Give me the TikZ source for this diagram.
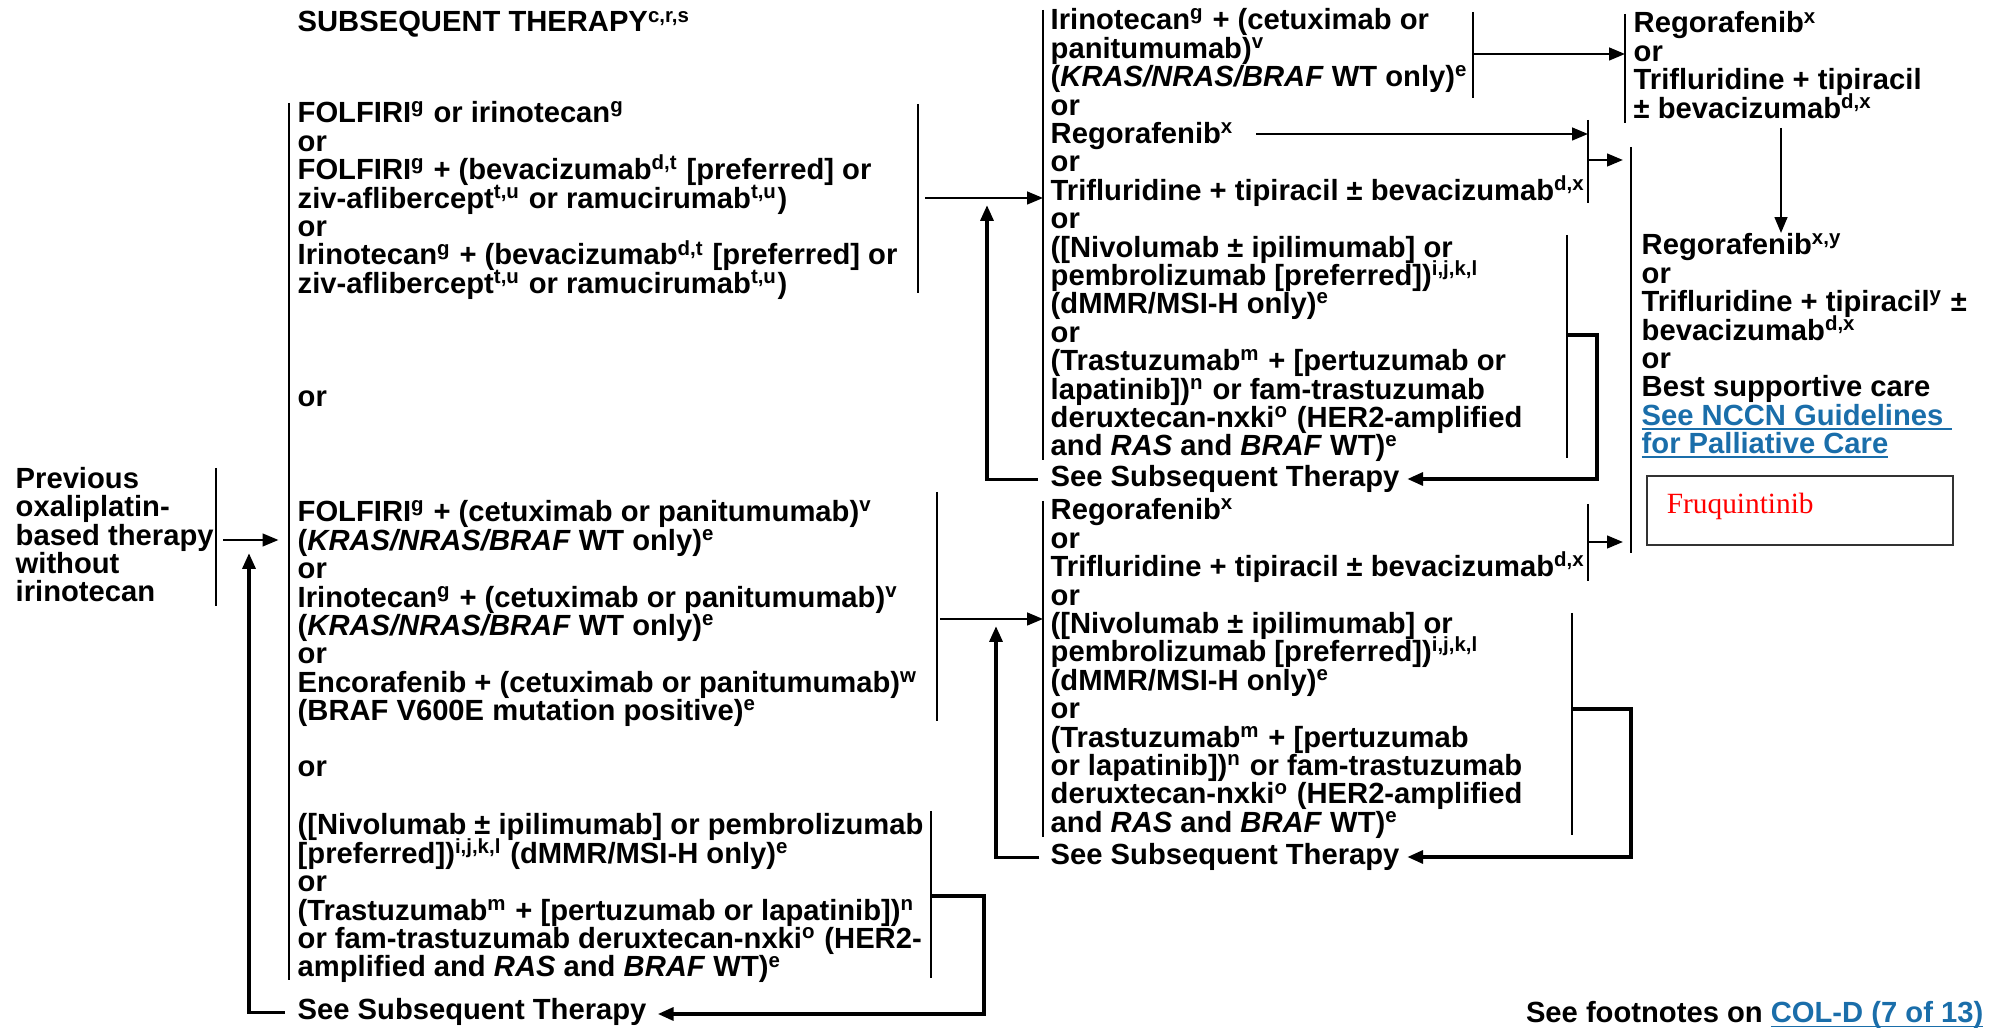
\documentclass[tikz,border=0pt]{standalone}
\usepackage{fontspec}
\setmainfont{Liberation Sans}
\newfontfamily\serifred{Liberation Serif}
\usetikzlibrary{arrows.meta}
\definecolor{linkblue}{RGB}{26,110,170}
\newcommand{\sps}[1]{\smash{\textsuperscript{#1}}}
\newcommand{\lnk}[1]{\textcolor{linkblue}{\setbox0=\hbox{#1}\rlap{\rule[-1.2pt]{\wd0}{0.45pt}}\box0}}
\newcommand{\txtfont}{\bfseries\fontsize{8.3pt}{8.08pt}\selectfont\lineskiplimit=-20pt\relax}
\tikzset{
  % multi-line text sits on the baseline of its last line
  txt/.style={anchor=base west, align=left, inner sep=0pt, font=\txtfont},
  bar/.style={line width=0.6pt},
  back/.style={line width=1.1pt},
  arr/.style={-{Triangle[length=4.5pt,width=3.6pt]}},
  fruqbox/.style={draw=black!80, line width=0.45pt, anchor=north west,
    minimum width=3.06cm, minimum height=0.69cm, inner xsep=0.2cm,
    text width=2.66cm, align=left, text height=0.2cm, text depth=0.13cm,
    font=\serifred\fontsize{8.35pt}{9pt}\selectfont, text=red},
}
\begin{document}
\begin{tikzpicture}[x=0.01cm, y=-0.01cm]
\useasboundingbox (0,0) rectangle (2002,1028);

% Title and starting point
\node[txt] (title) at (297,32) {SUBSEQUENT THERAPY\sps{c,r,s}};
\node[txt] (prev) at (15,602) {Previous\\ oxaliplatin-\\ based therapy\\ without\\ irinotecan};

% First column
\node[txt] (folfiri) at (297,293.4) {FOLFIRI\sps{g} or irinotecan\sps{g}\\ or\\
  FOLFIRI\sps{g} + (bevacizumab\sps{d,t} [preferred] or\\
  ziv-aflibercept\sps{t,u} or ramucirumab\sps{t,u})\\ or\\
  Irinotecan\sps{g} + (bevacizumab\sps{d,t} [preferred] or\\
  ziv-aflibercept\sps{t,u} or ramucirumab\sps{t,u})};
\node[txt] (orA) at (297,407) {or};
\node[txt] (cetux) at (297,720.8) {FOLFIRI\sps{g} + (cetuximab or panitumumab)\sps{v}\\
  (\textit{KRAS/NRAS/BRAF} WT only)\sps{e}\\ or\\
  Irinotecan\sps{g} + (cetuximab or panitumumab)\sps{v}\\
  (\textit{KRAS/NRAS/BRAF} WT only)\sps{e}\\ or\\
  Encorafenib + (cetuximab or panitumumab)\sps{w}\\
  (BRAF V600E mutation positive)\sps{e}};
\node[txt] (orB) at (297,777) {or};
\node[txt] (immuno) at (297,977) {([Nivolumab ± ipilimumab] or pembrolizumab\\
  {}[preferred])\sps{i,j,k,l} (dMMR/MSI-H only)\sps{e}\\ or\\
  (Trastuzumab\sps{m} + [pertuzumab or lapatinib])\sps{n}\\
  or fam-trastuzumab deruxtecan-nxki\sps{o} (HER2-\\
  amplified and \textit{RAS} and \textit{BRAF} WT)\sps{e}};
\node[txt] (seeA) at (297,1020) {See Subsequent Therapy};

% Second column
\node[txt] (irino) at (1050,456) {Irinotecan\sps{g} + (cetuximab or\\ panitumumab)\sps{v}\\
  (\textit{KRAS/NRAS/BRAF} WT only)\sps{e}\\ or\\
  Regorafenib\sps{x}\\ or\\
  Trifluridine + tipiracil ± bevacizumab\sps{d,x}\\ or\\
  ([Nivolumab ± ipilimumab] or\\ pembrolizumab [preferred])\sps{i,j,k,l}\\
  (dMMR/MSI-H only)\sps{e}\\ or\\
  (Trastuzumab\sps{m} + [pertuzumab or\\ lapatinib])\sps{n} or fam-trastuzumab\\
  deruxtecan-nxki\sps{o} (HER2-amplified\\ and \textit{RAS} and \textit{BRAF} WT)\sps{e}};
\node[txt] (seeB) at (1050,487) {See Subsequent Therapy};
\node[txt] (rego) at (1050,832.4) {Regorafenib\sps{x}\\ or\\
  Trifluridine + tipiracil ± bevacizumab\sps{d,x}\\ or\\
  ([Nivolumab ± ipilimumab] or\\ pembrolizumab [preferred])\sps{i,j,k,l}\\
  (dMMR/MSI-H only)\sps{e}\\ or\\
  (Trastuzumab\sps{m} + [pertuzumab\\ or lapatinib])\sps{n} or fam-trastuzumab\\
  deruxtecan-nxki\sps{o} (HER2-amplified\\ and \textit{RAS} and \textit{BRAF} WT)\sps{e}};
\node[txt] (seeC) at (1050,865) {See Subsequent Therapy};

% Third column
\node[txt] (regoA) at (1633,118.2) {Regorafenib\sps{x}\\ or\\ Trifluridine + tipiracil\\ ± bevacizumab\sps{d,x}};
\node[txt] (regoB) at (1641,453.8) {Regorafenib\sps{x,y}\\ or\\ Trifluridine + tipiracil\sps{y} ±\\
  bevacizumab\sps{d,x}\\ or\\ Best supportive care\\
  \lnk{See NCCN Guidelines\ }\\ \lnk{for Palliative Care}};
\node[fruqbox] (fruq) at (1646,475) {Fruquintinib};

% Footnote
\node[txt, anchor=base east] (foot) at (1984,1023) {See footnotes on \lnk{COL-D (7 of 13)}};

% Bars
\coordinate (prevT) at (216,468); \coordinate (prevB) at (216,606);
\coordinate (mainT) at (289,103); \coordinate (mainB) at (289,980);
\coordinate (aT) at (918,104);    \coordinate (aB) at (918,293);
\coordinate (bT) at (937,492);    \coordinate (bB) at (937,721);
\coordinate (cT) at (931,811);    \coordinate (cB) at (931,978);
\coordinate (dT) at (1043,10);    \coordinate (dB) at (1043,460);
\coordinate (eT) at (1473,12);    \coordinate (eB) at (1473,98);
\coordinate (fT) at (1588,120);   \coordinate (fB) at (1588,203);
\coordinate (gT) at (1567,235);   \coordinate (gB) at (1567,458);
\coordinate (hT) at (1043,501);   \coordinate (hB) at (1043,837);
\coordinate (iT) at (1588,504);   \coordinate (iB) at (1588,581);
\coordinate (jT) at (1572,613);   \coordinate (jB) at (1572,835);
\coordinate (kT) at (1625,14);    \coordinate (kB) at (1625,123);
\coordinate (lT) at (1631,147);   \coordinate (lB) at (1631,553);
\foreach \b in {prev,main,a,b,c,d,e,f,g,h,i,j,k,l}
  \draw[bar] (\b T) -- (\b B);

% Arrows between the bars
\coordinate (pOut) at (223,540);
\draw[bar,arr,shorten >=3pt] (pOut) -- (pOut -| mainT);
\coordinate (aOut) at (925,198);
\draw[bar,arr] (aOut) -- (aOut -| dT);
\coordinate (bOut) at (940,619);
\draw[bar,arr] (bOut) -- (bOut -| hT);
\coordinate (eOut) at (1473,54);
\draw[bar,arr] (eOut) -- (eOut -| kT);
\coordinate (regoOut) at (1256,134);
\draw[bar,arr] (regoOut) -- (regoOut -| fT);
\coordinate (fOut) at (1588,160);
\draw[bar,arr,shorten >=2.3pt] (fOut) -- (fOut -| lT);
\coordinate (iOut) at (1588,542);
\draw[bar,arr,shorten >=2.3pt] (iOut) -- (iOut -| lT);
\coordinate (kDown) at (1781,128);
\draw[bar,arr] (kDown) -- (kDown |- 0,233);

% Loops back to See Subsequent Therapy
\coordinate (cOut) at (931,896); \coordinate (cTurn) at (984,1014);
\draw[back,arr,shorten >=3pt] (cOut) -| (cTurn) -- (cTurn -| seeA.east);
\coordinate (gOut) at (1567,335); \coordinate (gTurn) at (1597,479);
\draw[back,arr,shorten >=2pt] (gOut) -| (gTurn) -- (gTurn -| seeB.east);
\coordinate (jOut) at (1572,709); \coordinate (jTurn) at (1631,857);
\draw[back,arr,shorten >=2pt] (jOut) -| (jTurn) -- (jTurn -| seeC.east);
\coordinate (sA) at (249,553);
\draw[back,arr,shorten <=3.5pt] (seeA.west) -| (sA);
\coordinate (sB) at (987,205);
\draw[back,arr,shorten <=3.4pt] (seeB.west) -| (sB);
\coordinate (sC) at (996,626);
\draw[back,arr,shorten <=3pt] (seeC.west) -| (sC);
\end{tikzpicture}
\end{document}
